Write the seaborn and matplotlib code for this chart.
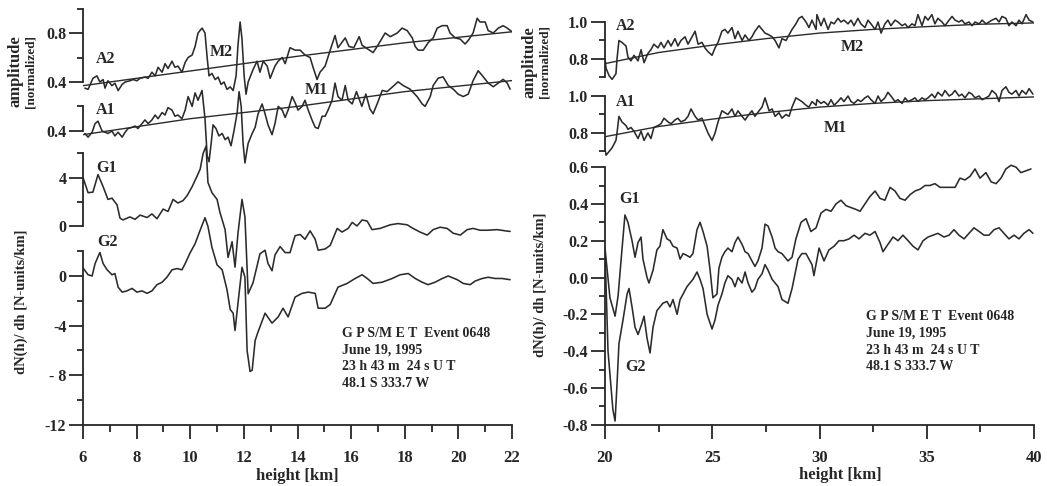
import matplotlib
matplotlib.use("Agg")
import matplotlib.pyplot as plt
from matplotlib.ticker import FixedLocator, FixedFormatter
import pandas as pd
import seaborn as sns

# ---------------- left panel (troposphere, 6-22 km) ----------------
left_a2_km = [6.07, 6.19, 6.37, 6.52, 6.63, 6.75, 6.82, 6.93, 7.08, 7.19, 7.31, 7.46, 7.57, 7.75, 7.87,
              8.01, 8.13, 8.31, 8.43, 8.57, 8.69, 8.80, 8.95, 9.06, 9.17, 9.32, 9.43, 9.54, 9.69, 9.81,
              9.92, 10.07, 10.18, 10.29, 10.44, 10.55, 10.63, 10.70, 10.81, 10.93, 11.04, 11.15, 11.26,
              11.37, 11.49, 11.60, 11.71, 11.78, 11.86, 11.93, 12.01, 12.08, 12.16, 12.34, 12.49, 12.60,
              12.72, 12.87, 12.98, 13.16, 13.28, 13.43, 13.54, 13.72, 13.91, 14.10, 14.28, 14.47, 14.58,
              14.73, 14.84, 15.03, 15.22, 15.40, 15.51, 15.78, 15.92, 16.10, 16.30, 16.41, 16.82, 16.97,
              17.27, 17.46, 17.72, 17.90, 18.09, 18.28, 18.39, 18.50, 18.69, 18.87, 19.06, 19.21, 19.40,
              19.58, 19.69, 19.88, 20.07, 20.25, 20.37, 20.55, 20.70, 20.81, 21.00, 21.11, 21.30, 21.49,
              21.67, 21.82, 22.00]
left_a2 = [0.35, 0.34, 0.43, 0.45, 0.40, 0.42, 0.35, 0.41, 0.37, 0.39, 0.33, 0.38, 0.40, 0.41, 0.42,
           0.41, 0.43, 0.44, 0.43, 0.48, 0.45, 0.52, 0.48, 0.55, 0.51, 0.57, 0.52, 0.53, 0.48, 0.56,
           0.60, 0.62, 0.69, 0.80, 0.84, 0.80, 0.60, 0.45, 0.47, 0.42, 0.44, 0.38, 0.40,
           0.34, 0.36, 0.33, 0.45, 0.70, 0.89, 0.75, 0.45, 0.30, 0.40, 0.50, 0.57, 0.48,
           0.57, 0.53, 0.43, 0.53, 0.57, 0.60, 0.55, 0.68, 0.66, 0.66, 0.62, 0.60, 0.52,
           0.42, 0.48, 0.53, 0.66, 0.78, 0.68, 0.76, 0.69, 0.68, 0.77, 0.70, 0.64, 0.69,
           0.80, 0.77, 0.80, 0.84, 0.82, 0.76, 0.69, 0.66, 0.66, 0.72, 0.76, 0.84, 0.86,
           0.86, 0.80, 0.76, 0.75, 0.71, 0.74, 0.80, 0.92, 0.89, 0.89, 0.82, 0.80, 0.84,
           0.86, 0.84, 0.81]
left_m2_km = [6.0, 10.0, 14.0, 18.0, 22.0]
left_m2 = [0.37, 0.49, 0.61, 0.72, 0.81]

left_a1_km = [6.07, 6.19, 6.34, 6.45, 6.56, 6.71, 6.93, 7.08, 7.19, 7.31, 7.46, 7.57, 7.68, 7.83, 7.94,
              8.05, 8.20, 8.31, 8.43, 8.57, 8.69, 8.80, 8.95, 9.06, 9.17, 9.32, 9.43, 9.54, 9.69, 9.81,
              9.92, 10.07, 10.18, 10.29, 10.44, 10.55, 10.63, 10.70, 10.78, 10.85, 10.96, 11.07, 11.19,
              11.30, 11.41, 11.52, 11.63, 11.75, 11.82, 11.90, 11.97, 12.04, 12.12, 12.16, 12.31, 12.42,
              12.53, 12.68, 12.79, 12.90, 13.05, 13.16, 13.28, 13.43, 13.54, 13.65, 13.80, 13.91, 14.02,
              14.17, 14.28, 14.40, 14.54, 14.66, 14.77, 14.92, 15.03, 15.14, 15.29, 15.40, 15.51, 15.66,
              15.78, 15.89, 16.04, 16.20, 16.40, 16.55, 16.70, 16.82, 16.97, 17.16, 17.34, 17.55, 17.75,
              17.94, 18.20, 18.46, 18.65, 18.76, 18.95, 19.06, 19.25, 19.43, 19.62, 19.81, 19.99, 20.18,
              20.37, 20.55, 20.74, 20.93, 21.11, 21.30, 21.49, 21.67, 21.82, 21.93]
left_a1 = [0.38, 0.35, 0.39, 0.46, 0.48, 0.40, 0.38, 0.40, 0.36, 0.39, 0.35, 0.39, 0.42, 0.43, 0.44,
           0.42, 0.46, 0.49, 0.46, 0.49, 0.53, 0.50, 0.55, 0.53, 0.59, 0.57, 0.52, 0.53, 0.50, 0.57,
           0.68, 0.60, 0.71, 0.65, 0.73, 0.50, 0.20, 0.15, 0.30, 0.45, 0.42, 0.36, 0.38,
           0.33, 0.35, 0.28, 0.40, 0.55, 0.72, 0.60, 0.30, 0.14, 0.25, 0.30, 0.38, 0.43,
           0.54, 0.62, 0.54, 0.45, 0.37, 0.46, 0.60, 0.57, 0.51, 0.57, 0.68, 0.63, 0.57,
           0.60, 0.65, 0.57, 0.49, 0.43, 0.42, 0.52, 0.52, 0.57, 0.65, 0.79, 0.68, 0.65,
           0.77, 0.65, 0.62, 0.72, 0.60, 0.70, 0.58, 0.54, 0.62, 0.73, 0.72, 0.76, 0.80,
           0.77, 0.74, 0.68, 0.62, 0.60, 0.68, 0.77, 0.83, 0.84, 0.77, 0.74, 0.70, 0.68,
           0.70, 0.81, 0.89, 0.84, 0.79, 0.76, 0.79, 0.82, 0.79, 0.74]
left_m1_km = [6.0, 10.0, 14.0, 18.0, 22.0]
left_m1 = [0.37, 0.50, 0.60, 0.72, 0.81]

left_g1_km = [6.00, 6.19, 6.37, 6.56, 6.75, 6.93, 7.08, 7.27, 7.38, 7.49, 7.75, 7.94, 8.13, 8.39, 8.57,
              8.76, 8.99, 9.17, 9.36, 9.54, 9.73, 9.88, 10.07, 10.25, 10.37, 10.48, 10.59, 10.66, 10.81,
              11.00, 11.11, 11.30, 11.41, 11.56, 11.67, 11.78, 11.93, 12.04, 12.16, 12.34, 12.60, 12.79,
              12.90, 13.05, 13.16, 13.35, 13.54, 13.72, 13.91, 14.10, 14.28, 14.47, 14.66, 14.77, 15.03,
              15.22, 15.48, 15.66, 15.89, 16.04, 16.22, 16.41, 16.60, 16.78, 17.08, 17.46, 17.75, 18.09,
              18.31, 18.57, 18.84, 19.06, 19.32, 19.58, 19.81, 20.07, 20.33, 20.55, 20.81, 21.07, 21.45,
              21.75, 21.93]
left_g1 = [4.0, 2.75, 2.8, 4.25, 3.25, 2.2, 2.3, 1.75, 0.65, 0.5, 0.75, 0.55, 0.9, 0.7, 1.0,
           0.6, 1.4, 1.2, 2.2, 1.9, 2.1, 2.5, 3.25, 4.1, 4.7, 6.0, 6.6, 3.6, 2.75,
           2.2, 1.1, -0.3, -2.6, -1.3, -3.4, -0.6, 2.2, 0.75, -5.6, -4.7, -2.3, -2.0,
           -3.1, -3.7, -2.4, -1.7, -2.2, -2.2, -0.8, -0.7, -1.1, -0.4, -1.1, -2.0, -1.9,
           -1.6, -0.2, -0.5, -0.2, 0.3, 0.0, 0.5, 0.4, -0.3, -0.2, 0.1, 0.2, 0.1,
           -0.2, -0.5, -0.75, -0.3, -0.1, -0.2, -0.6, -0.75, -0.3, -0.2, -0.35, -0.35, -0.3,
           -0.4, -0.45]

left_g2_km = [6.00, 6.19, 6.34, 6.45, 6.63, 6.75, 6.90, 7.08, 7.19, 7.31, 7.46, 7.64, 7.83, 8.01, 8.20,
              8.39, 8.57, 8.76, 8.95, 9.13, 9.32, 9.51, 9.69, 9.81, 9.99, 10.18, 10.37, 10.55, 10.66,
              10.81, 11.00, 11.19, 11.37, 11.49, 11.60, 11.67, 11.78, 11.93, 12.04, 12.12, 12.23, 12.31,
              12.42, 12.53, 12.79, 13.05, 13.28, 13.46, 13.65, 13.91, 14.17, 14.40, 14.66, 14.77, 15.03,
              15.22, 15.51, 15.85, 16.15, 16.41, 16.60, 16.82, 17.16, 17.53, 17.83, 18.13, 18.39, 18.65,
              18.87, 19.13, 19.40, 19.62, 19.96, 20.18, 20.44, 20.63, 20.89, 21.11, 21.37, 21.63, 21.93]
left_g2 = [0.65, 0.1, 0.0, 1.0, 1.9, 1.0, 0.5, 0.1, 0.2, -0.9, -1.3, -1.2, -1.0, -1.3, -1.2,
           -1.4, -1.2, -0.7, -0.5, -0.1, 0.5, 0.6, 0.5, 1.0, 1.85, 2.6, 3.7, 4.7, 4.0,
           2.3, 0.9, 0.5, -1.1, -2.7, -3.0, -4.4, -2.2, 0.7, -0.1, -6.0, -7.7, -7.6,
           -5.2, -4.5, -3.0, -3.8, -3.3, -2.6, -3.3, -1.7, -1.4, -1.3, -1.4, -2.6, -2.6,
           -2.3, -0.9, -0.6, -0.2, 0.1, -0.2, -0.6, -0.5, -0.2, 0.1, 0.2, -0.2, -0.5,
           -0.7, -0.5, -0.2, 0.0, -0.3, -0.6, -0.7, -0.4, -0.2, -0.1, -0.2, -0.2, -0.3]

# ---------------- right panel (stratosphere, 20-40 km) ----------------
right_a_km = [20.00, 20.05, 20.19, 20.33, 20.51, 20.56, 20.65, 20.79, 20.98, 21.07, 21.21, 21.35, 21.54,
              21.68, 21.82, 22.00, 22.14, 22.28, 22.47, 22.61, 22.75, 22.94, 23.08, 23.26, 23.40, 23.54,
              23.73, 23.87, 24.01, 24.20, 24.34, 24.52, 24.66, 24.80, 24.99, 25.13, 25.27, 25.45, 25.59,
              25.73, 25.92, 26.06, 26.20, 26.39, 26.53, 26.71, 26.85, 26.99, 27.18, 27.32, 27.46, 27.65,
              27.79, 27.93, 28.11, 28.25, 28.44, 28.58, 28.72, 28.90, 29.04, 29.18, 29.37, 29.51, 29.65,
              29.84, 29.88, 30.07, 30.21, 30.40, 30.54, 30.68, 30.86, 31.00, 31.14, 31.33, 31.47, 31.61,
              31.79, 31.93, 32.12, 32.26, 32.40, 32.59, 32.73, 32.87, 33.05, 33.19, 33.33, 33.52, 33.66,
              33.85, 33.99, 34.13, 34.31, 34.45, 34.59, 34.78, 34.92, 35.06, 35.24, 35.38, 35.52, 35.71,
              35.85, 36.04, 36.18, 36.32, 36.50, 36.64, 36.78, 36.97, 37.11, 37.25, 37.44, 37.58, 37.76,
              37.90, 38.04, 38.23, 38.37, 38.51, 38.69, 38.83, 38.97, 39.16, 39.30, 39.44, 39.63, 39.77,
              39.95]
right_a2 = [0.80, 0.75, 0.71, 0.69, 0.72, 0.80, 0.90, 0.89, 0.87, 0.81, 0.79, 0.82, 0.79,
            0.85, 0.78, 0.83, 0.85, 0.88, 0.86, 0.89, 0.86, 0.90, 0.87, 0.91, 0.87, 0.90,
            0.92, 0.88, 0.91, 0.95, 0.88, 0.89, 0.86, 0.84, 0.82, 0.86, 0.89, 0.95, 0.96,
            0.94, 0.97, 0.91, 0.95, 0.90, 0.93, 0.90, 0.92, 0.95, 0.98, 0.96, 0.94, 0.93,
            0.92, 0.90, 0.86, 0.91, 0.90, 0.93, 0.96, 0.99, 1.02, 1.03, 1.00, 0.97, 1.01,
            0.96, 1.04, 0.98, 1.02, 0.96, 1.00, 0.99, 1.02, 1.00, 1.01, 0.99, 1.01, 0.98,
            1.02, 0.99, 0.97, 1.01, 0.99, 0.96, 1.00, 0.94, 0.99, 1.01, 0.98, 1.01, 1.00,
            0.98, 0.99, 0.97, 0.99, 0.98, 1.04, 0.98, 1.03, 1.01, 1.04, 0.99, 1.02, 1.00,
            0.98, 1.01, 1.03, 1.01, 1.00, 1.01, 0.99, 1.00, 0.98, 1.00, 0.99, 1.01, 0.99,
            1.00, 1.01, 1.02, 1.00, 1.03, 1.02, 0.98, 1.00, 0.98, 1.01, 0.99, 1.04, 1.01,
            1.00]
right_a1 = [0.71, 0.68, 0.70, 0.72, 0.76, 0.80, 0.89, 0.86, 0.84, 0.82, 0.83, 0.81, 0.77,
            0.81, 0.76, 0.80, 0.77, 0.83, 0.84, 0.85, 0.88, 0.86, 0.85, 0.87, 0.88, 0.86,
            0.87, 0.89, 0.93, 0.89, 0.87, 0.88, 0.84, 0.80, 0.76, 0.80, 0.86, 0.92, 0.91,
            0.90, 0.93, 0.89, 0.92, 0.89, 0.87, 0.90, 0.92, 0.89, 0.92, 0.94, 0.99, 0.92,
            0.93, 0.89, 0.91, 0.88, 0.90, 0.89, 0.94, 0.99, 0.98, 0.97, 0.95, 0.94, 0.97,
            0.95, 0.98, 0.96, 0.97, 0.95, 0.98, 0.95, 0.97, 0.99, 0.97, 1.00, 0.97, 0.96,
            0.98, 0.97, 0.99, 1.00, 0.98, 0.96, 1.00, 0.97, 0.99, 1.02, 1.00, 0.97, 0.98,
            0.96, 0.99, 0.97, 0.98, 0.99, 0.97, 0.99, 0.98, 0.99, 1.01, 0.99, 1.02, 1.00,
            1.03, 1.00, 1.01, 1.03, 1.00, 1.01, 0.99, 1.02, 1.01, 0.99, 1.00, 0.98, 0.99,
            1.00, 1.03, 1.01, 0.97, 1.03, 1.05, 1.02, 1.01, 1.03, 1.00, 1.03, 1.01, 1.04,
            1.01]
right_m_km = [20.0, 22.5, 25.0, 27.5, 30.0, 32.5, 35.0, 37.5, 40.0]
right_m2 = [0.775, 0.835, 0.875, 0.91, 0.94, 0.96, 0.975, 0.988, 0.995]
right_m1 = [0.78, 0.835, 0.875, 0.91, 0.94, 0.96, 0.975, 0.985, 0.995]

right_g1_km = [20.00, 20.23, 20.47, 20.61, 20.79, 20.93, 21.07, 21.26, 21.40, 21.54, 21.68, 21.77, 21.96,
               22.05, 22.24, 22.42, 22.56, 22.70, 22.89, 23.03, 23.17, 23.36, 23.50, 23.64, 23.82, 23.96,
               24.10, 24.29, 24.43, 24.57, 24.76, 24.90, 25.03, 25.22, 25.31, 25.45, 25.59, 25.73, 25.92,
               26.06, 26.20, 26.39, 26.53, 26.67, 26.85, 26.99, 27.13, 27.32, 27.46, 27.60, 27.79, 27.93,
               28.07, 28.25, 28.39, 28.53, 28.72, 28.90, 29.14, 29.37, 29.60, 29.84, 30.07, 30.30, 30.54,
               30.77, 31.00, 31.24, 31.47, 31.70, 31.89, 32.12, 32.35, 32.59, 32.82, 33.05, 33.29, 33.52,
               33.75, 33.99, 34.22, 34.45, 34.69, 34.92, 35.15, 35.38, 35.62, 35.85, 36.08, 36.32, 36.55,
               36.78, 37.02, 37.25, 37.48, 37.76, 38.00, 38.23, 38.46, 38.69, 38.93, 39.16, 39.39, 39.63,
               39.86]
right_g1 = [0.16, -0.11, -0.21, -0.10, 0.15, 0.34, 0.30, 0.20, 0.11, 0.19, 0.22, 0.10, 0.00,
            -0.03, 0.04, 0.15, 0.17, 0.26, 0.21, 0.20, 0.17, 0.16, 0.10, 0.13, 0.12, 0.11,
            0.13, 0.26, 0.30, 0.25, 0.17, 0.04, -0.11, -0.09, 0.05, 0.11, 0.14, 0.16, 0.14,
            0.19, 0.22, 0.18, 0.14, 0.13, 0.09, 0.06, 0.09, 0.16, 0.29, 0.28, 0.22, 0.16,
            0.14, 0.13, 0.11, 0.09, 0.11, 0.21, 0.30, 0.32, 0.25, 0.27, 0.35, 0.37, 0.36,
            0.40, 0.42, 0.39, 0.38, 0.37, 0.36, 0.40, 0.44, 0.47, 0.43, 0.42, 0.49, 0.47,
            0.43, 0.42, 0.45, 0.47, 0.48, 0.50, 0.50, 0.51, 0.49, 0.49, 0.49, 0.49, 0.54,
            0.53, 0.55, 0.59, 0.54, 0.57, 0.52, 0.51, 0.54, 0.59, 0.61, 0.60, 0.57, 0.58,
            0.59]

right_g2_km = [20.00, 20.14, 20.37, 20.47, 20.56, 20.65, 20.84, 21.03, 21.12, 21.26, 21.40, 21.54, 21.72,
               21.82, 21.96, 22.10, 22.24, 22.42, 22.56, 22.70, 22.89, 23.03, 23.17, 23.36, 23.50, 23.64,
               23.82, 23.96, 24.10, 24.29, 24.43, 24.57, 24.76, 24.99, 25.13, 25.27, 25.45, 25.59, 25.73,
               25.92, 26.06, 26.20, 26.39, 26.53, 26.67, 26.85, 26.99, 27.13, 27.32, 27.46, 27.60, 27.79,
               27.93, 28.07, 28.25, 28.39, 28.53, 28.72, 28.86, 29.00, 29.18, 29.37, 29.65, 29.74, 29.98,
               30.21, 30.44, 30.68, 30.91, 31.14, 31.38, 31.61, 31.84, 32.12, 32.35, 32.59, 32.82, 32.96,
               33.19, 33.43, 33.66, 33.89, 34.13, 34.36, 34.59, 34.83, 35.06, 35.29, 35.52, 35.80, 36.04,
               36.27, 36.50, 36.74, 36.97, 37.20, 37.44, 37.67, 37.90, 38.14, 38.37, 38.60, 38.83, 39.07,
               39.30, 39.53, 39.77, 39.95]
right_g2 = [0.15, -0.40, -0.72, -0.78, -0.58, -0.36, -0.23, -0.09, -0.06, -0.16, -0.27, -0.31, -0.25,
            -0.21, -0.33, -0.41, -0.27, -0.18, -0.16, -0.14, -0.13, -0.16, -0.12, -0.20, -0.12, -0.09,
            -0.05, -0.03, -0.01, 0.03, -0.01, -0.06, -0.20, -0.28, -0.23, -0.15, -0.09, -0.03, 0.01,
            -0.01, -0.05, 0.00, -0.03, 0.03, -0.03, -0.08, -0.06, -0.01, 0.02, 0.07, 0.04, -0.01,
            -0.03, -0.05, -0.12, -0.13, -0.14, -0.06, 0.02, 0.10, 0.13, 0.13, 0.07, 0.01, 0.16,
            0.09, 0.15, 0.17, 0.20, 0.20, 0.21, 0.23, 0.21, 0.24, 0.23, 0.25, 0.19, 0.14,
            0.18, 0.22, 0.20, 0.23, 0.20, 0.17, 0.15, 0.20, 0.22, 0.23, 0.24, 0.22, 0.23,
            0.26, 0.23, 0.21, 0.24, 0.27, 0.25, 0.23, 0.23, 0.26, 0.27, 0.24, 0.21, 0.23,
            0.21, 0.24, 0.26, 0.24]

event_lines = ["G P S/M E T  Event 0648", "June 19, 1995", "23 h 43 m  24 s U T", "48.1 S 333.7 W"]

# ---------------- styling ----------------
sns.set_theme(style="white")
plt.rcParams['font.family'] = ['Liberation Serif', 'DejaVu Serif']
plt.rcParams['font.weight'] = 'bold'
INK = '#262626'
CURVE = '#2b2b2b'

W, H = 1047, 486
TOP, BOT = 5, 425
fig = plt.figure(figsize=(W / 100, H / 100), dpi=100, facecolor='white')


def layer(x0, x1, xlim, v0, p0, scale):
    """Transparent axes spanning the whole panel; v0 sits at pixel row p0."""
    ax = fig.add_axes([x0 / W, 1 - BOT / H, (x1 - x0) / W, (BOT - TOP) / H])
    ax.patch.set_alpha(0)
    ax.set_xlim(*xlim)
    ax.set_ylim(v0 - (BOT - p0) / scale, v0 + (p0 - TOP) / scale)
    for s in ax.spines.values():
        s.set_visible(False)
    ax.set_xticks([])
    ax.set_yticks([])
    ax.grid(False)
    return ax


def yaxis(ax, lo, hi, major, labels, minor):
    sp = ax.spines['left']
    sp.set_visible(True)
    sp.set_bounds(lo, hi)
    sp.set_color(INK)
    sp.set_linewidth(1.3)
    ax.yaxis.set_major_locator(FixedLocator(major))
    ax.yaxis.set_major_formatter(FixedFormatter(labels))
    ax.yaxis.set_minor_locator(FixedLocator(minor))
    ax.tick_params(axis='y', which='major', direction='out', length=10, width=1.3,
                   color=INK, labelsize=11.5, labelcolor=INK, pad=2, left=True)
    ax.tick_params(axis='y', which='minor', direction='out', length=4, width=1.3,
                   color=INK, left=True)


def xaxis(ax, major, minor):
    sp = ax.spines['bottom']
    sp.set_visible(True)
    sp.set_color(INK)
    sp.set_linewidth(1.3)
    ax.set_xticks(major)
    ax.set_xticklabels([f"{m:g}" for m in major])
    ax.set_xticks(minor, minor=True)
    ax.tick_params(axis='x', which='major', direction='out', length=10, width=1.3,
                   color=INK, labelsize=12, labelcolor=INK, pad=8, bottom=True)
    ax.tick_params(axis='x', which='minor', direction='out', length=5, width=1.3,
                   color=INK, bottom=True)


def curve(ax, x, y, lw=1.15):
    df = pd.DataFrame({'height': x, 'value': y})
    sns.lineplot(data=df, x='height', y='value', ax=ax, color=CURVE, linewidth=lw,
                 sort=False, estimator=None)
    ax.set_xlabel('')
    ax.set_ylabel('')


def label(px, py, s, size=11, **kw):
    fig.text(px / W, 1 - py / H, s, fontsize=size, fontweight='bold', color=INK,
             ha=kw.pop('ha', 'center'), va=kw.pop('va', 'center'), **kw)


# ---- left panel ----
LX0, LX1, LXL = 83, 512, (6, 22)
ax = layer(LX0, LX1, LXL, 0.8, 33, 122.5)
curve(ax, left_a2_km, left_a2)
curve(ax, left_m2_km, left_m2, lw=1.0)
yaxis(ax, 0.4, 1.0, [0.4, 0.8], ['0.4', '0.8'], [0.6, 1.0])

ax = layer(LX0, LX1, LXL, 0.4, 131, 123)
curve(ax, left_a1_km, left_a1)
curve(ax, left_m1_km, left_m1, lw=1.0)
yaxis(ax, 0.4, 0.6, [0.4], ['0.4'], [0.6])

ax = layer(LX0, LX1, LXL, 0.0, 226, 12.1)
curve(ax, left_g1_km, left_g1)
yaxis(ax, 0, 6, [0, 4], ['0', '4'], [2, 6])

ax = layer(LX0, LX1, LXL, 0.0, 276, 12.4)
curve(ax, left_g2_km, left_g2)
yaxis(ax, -12, 2, [-12, -8, -4, 0], ['-12', '- 8', '-4', '0'], [-10, -6, -2, 2])
xaxis(ax, [6, 8, 10, 12, 14, 16, 18, 20, 22], [7, 9, 11, 13, 15, 17, 19, 21])

# ---- right panel ----
RX0, RX1, RXL = 605, 1034, (20, 40)
ax = layer(RX0, RX1, RXL, 1.0, 22, 185)
curve(ax, right_a_km, right_a2)
curve(ax, right_m_km, right_m2, lw=1.0)
yaxis(ax, 0.7, 1.0, [0.8, 1.0], ['0.8', '1.0'], [0.7, 0.9])

ax = layer(RX0, RX1, RXL, 1.0, 96, 185)
curve(ax, right_a_km, right_a1)
curve(ax, right_m_km, right_m1, lw=1.0)
yaxis(ax, 0.7, 1.0, [0.8, 1.0], ['0.8', '1.0'], [0.7, 0.9])

ax = layer(RX0, RX1, RXL, 0.0, 277.5, 184.0)
curve(ax, right_g1_km, right_g1)
curve(ax, right_g2_km, right_g2)
yaxis(ax, -0.8, 0.6, [-0.8, -0.6, -0.4, -0.2, 0.0, 0.2, 0.4, 0.6],
      ['-0.8', '-0.6', '-0.4', '-0.2', '0.0', '0.2', '0.4', '0.6'],
      [-0.7, -0.5, -0.3, -0.1, 0.1, 0.3, 0.5])
xaxis(ax, [20, 25, 30, 35, 40], [22.5, 27.5, 32.5, 37.5])

# ---- curve names ----
for px, py, s in [(106, 59, 'A2'), (106, 110, 'A1'), (221, 52, 'M2'), (316, 90, 'M1'),
                  (107, 168, 'G1'), (107, 242, 'G2'),
                  (626, 26, 'A2'), (626, 102, 'A1'), (852, 47, 'M2'), (835, 128, 'M1'),
                  (630, 199, 'G1'), (635, 367, 'G2')]:
    label(px, py, s, size=11.5)

# ---- event information ----
for i, s in enumerate(event_lines):
    label(342, 333 + 16.8 * i, s, size=10, ha='left')
    label(866, 316 + 17 * i, s, size=10, ha='left')

# ---- axis titles ----
label(15, 71, 'amplitude', size=12, rotation=90)
label(31, 71, '[normalized]', size=9.5, rotation=90)
label(21, 302, 'dN(h)/ dh [N-units/km]', size=10.5, rotation=90)
label(529, 62, 'amplitude', size=12, rotation=90)
label(545, 62, '[normalized]', size=9.5, rotation=90)
label(540, 285, 'dN(h)/ dh [N-units/km]', size=10.5, rotation=90)
label(297, 476, 'height [km]', size=12)
label(840, 475, 'height [km]', size=12)

fig.savefig('out.png', dpi=100, facecolor='white')
